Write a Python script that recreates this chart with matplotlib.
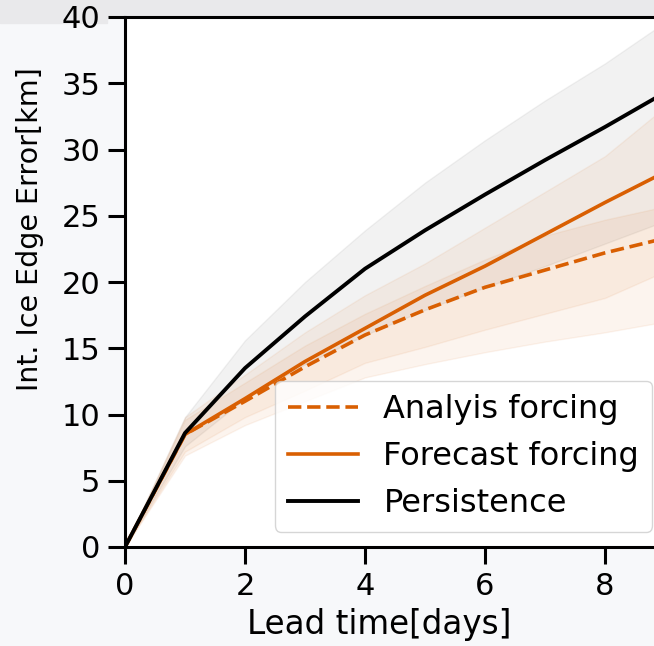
import numpy as np
import matplotlib
matplotlib.use("Agg")
import matplotlib.pyplot as plt
from matplotlib.patches import Rectangle

# lead time in days and mean integrated ice edge error (km)
days = [0, 1, 2, 3, 4, 5, 6, 7, 8, 9]
analysis = [0, 8.5, 11.0, 13.6, 16.0, 17.9, 19.6, 20.9, 22.2, 23.3]
forecast = [0, 8.5, 11.2, 14.0, 16.5, 19.0, 21.2, 23.6, 26.0, 28.3]
persistence = [0, 8.6, 13.5, 17.4, 21.0, 23.9, 26.6, 29.2, 31.7, 34.3]

# spread bands
analysis_lo = [0, 6.9, 9.2, 11.0, 12.8, 13.8, 14.7, 15.5, 16.2, 17.0]
analysis_hi = [0, 9.6, 12.4, 15.2, 17.6, 19.7, 21.7, 23.5, 24.7, 25.7]
forecast_lo = [0, 7.2, 9.8, 11.8, 13.9, 15.1, 16.4, 17.6, 18.8, 20.8]
forecast_hi = [0, 9.8, 13.0, 16.2, 19.0, 21.4, 24.1, 26.8, 29.5, 33.2]
persist_lo = [0, 7.6, 11.2, 13.8, 16.0, 17.9, 19.6, 21.2, 22.9, 24.6]
persist_hi = [0, 9.8, 15.6, 20.0, 23.9, 27.5, 30.7, 33.7, 36.5, 39.6]

orange = '#d95f02'
W, H = 654, 646

plt.rcParams['font.size'] = 22
fig = plt.figure(figsize=(W / 100, H / 100), dpi=100, facecolor='#f7f8fa')
# screenshot strip on top
fig.patches.append(Rectangle((0, 1 - 15 / H), 1, 15 / H, transform=fig.transFigure,
                             color='#e9e9eb', zorder=-5))
fig.patches.append(Rectangle((0, 1 - 23 / H), 107 / W, 23 / H, transform=fig.transFigure,
                             color='#e9e9eb', zorder=-5))

ax = fig.add_axes([125 / W, (H - 547) / H, 540 / W, 530 / H])

ax.fill_between(days, persist_lo, persist_hi, color='gray', alpha=0.1)
ax.fill_between(days, forecast_lo, forecast_hi, color=orange, alpha=0.065)
ax.fill_between(days, analysis_lo, analysis_hi, color=orange, alpha=0.065)

ax.plot(days, analysis, '--', color=orange, lw=2.6, label='Analyis forcing')
ax.plot(days, forecast, '-', color=orange, lw=2.6, label='Forecast forcing')
ax.plot(days, persistence, '-', color='black', lw=2.8, label='Persistence')

ax.set_xlim(0, 9)
ax.set_ylim(0, 40)
ax.set_xticks([0, 2, 4, 6, 8])
ax.set_yticks(range(0, 41, 5))
for s in ax.spines.values():
    s.set_linewidth(2.2)
ax.tick_params(width=2.2, length=12, pad=6)

ax.set_xlabel('Lead time[days]', fontsize=23.5)
ax.xaxis.set_label_coords((379 - 125) / 540, (547 - 608) / 530)
ax.set_ylabel('Int. Ice Edge Error[km]', fontsize=20.5)
ax.yaxis.set_label_coords((44 - 125) / 540, (547 - 229) / 530)

ax.legend(loc='upper right', bbox_to_anchor=(652 / W, (H - 381) / H),
          bbox_transform=fig.transFigure, borderaxespad=0, fontsize=23,
          handlelength=2.2, labelspacing=0.5)

fig.savefig('out.png', dpi=100, facecolor=fig.get_facecolor())
